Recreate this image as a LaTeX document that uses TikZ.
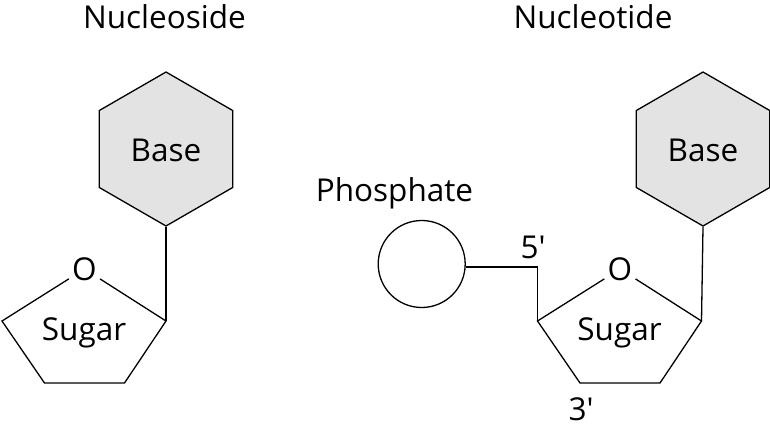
\documentclass[tikz,border=0pt]{standalone}
\usepackage{fontspec}
\setmainfont{Open Sans}[Ligatures=TeXOff]
\usetikzlibrary{shapes.geometric}
\tikzset{
  lbl/.style={font=\fontsize{31.5}{34}\selectfont, inner sep=0pt, anchor=base},
  hexbase/.style={draw, line width=1.3pt, fill=black!11, regular polygon, regular polygon sides=6, shape border rotate=30, minimum size=154pt, inner sep=0pt},
  ring/.style={draw, line width=1.3pt, line join=miter},
  link/.style={draw, line width=1.3pt},
  oxy/.style={font=\fontsize{31.5}{34}\selectfont, inner sep=1pt, circle}
}
\begin{document}
\begin{tikzpicture}[x=1pt,y=-1pt]
\useasboundingbox (0,0) rectangle (770,429);
% titles
\node[lbl] (t1) at (164.5,28) {Nucleoside};
\node[lbl] (t2) at (593,28) {Nucleotide};
% ---- nucleoside ----
\node[hexbase] (baseL) at (166,149) {};
\node[lbl] (baseLt) at (166,161) {Base};
\node[oxy] (oL) at (84.5,269) {O};
\coordinate (lvL) at (2,321);
\coordinate (rvL) at (166,321);
\coordinate (blL) at (44.5,383);
\coordinate (brL) at (124.5,383);
\path[ring] (oL) -- (lvL) -- (blL) -- (brL) -- (rvL) -- (oL);
\node[lbl] (sugL) at (84,340) {Sugar};
\path[link] (baseL.-90) -- (rvL);
% ---- nucleotide ----
\node[hexbase] (baseR) at (703,149) {};
\node[lbl] (baseRt) at (703,161) {Base};
\node[oxy] (oR) at (620,269) {O};
\coordinate (lvR) at (537.5,321);
\coordinate (rvR) at (701.5,321);
\coordinate (blR) at (580,383);
\coordinate (brR) at (660,383);
\path[ring] (oR) -- (lvR) -- (blR) -- (brR) -- (rvR) -- (oR);
\node[lbl] (sugR) at (619.5,340) {Sugar};
\path[link] (baseR.-90) -- (rvR);
\node[draw, circle, line width=1.3pt, minimum size=87pt, inner sep=0pt] (P) at (421.7,264) {};
\node[lbl] (Pt) at (394.5,201) {Phosphate};
\path[link] (P.-4) -| (lvR);
\node[lbl] (c5) at (533,258) {5'};
\node[lbl] (c3) at (581,420) {3'};
\end{tikzpicture}
\end{document}
